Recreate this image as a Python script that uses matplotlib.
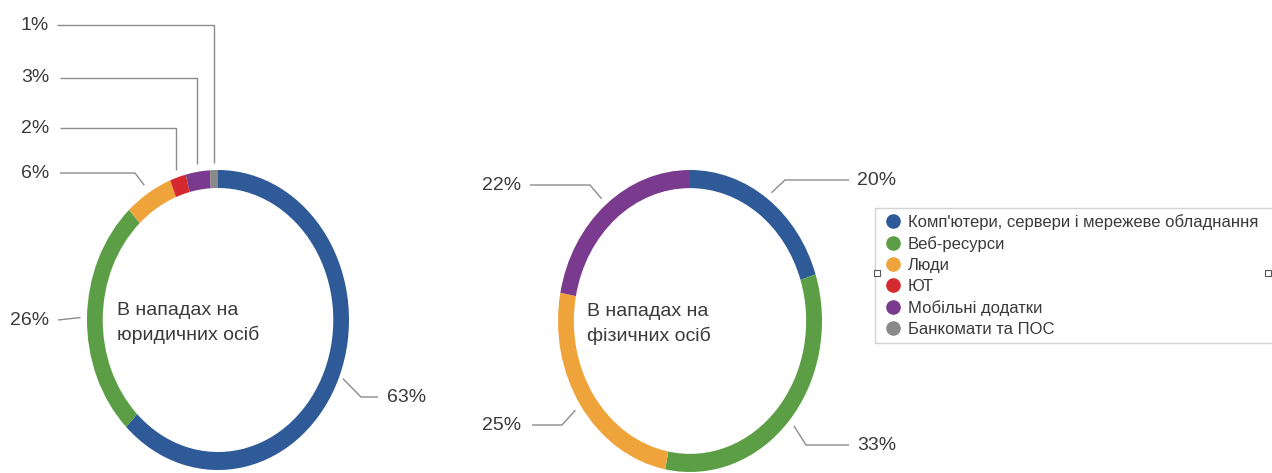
import numpy as np
import matplotlib
matplotlib.use("Agg")
import matplotlib.pyplot as plt
from matplotlib.lines import Line2D

plt.rcParams['font.family'] = ['Liberation Sans', 'DejaVu Sans']

# ---------------- data ----------------
categories = ["Комп'ютери, сервери і мережеве обладнання", "Веб-ресурси", "Люди",
              "ЮТ", "Мобільні додатки", "Банкомати та ПОС"]
colors = ["#2F5A98", "#5B9E45", "#EFA43B", "#D42A2F", "#7A3A8E", "#8A8A8A"]

legal_values = [63, 26, 6, 2, 3, 1]          # юридичні особи
legal_labels = ["63%", "26%", "6%", "2%", "3%", "1%"]
legal_title = "В нападах на\nюридичних осіб"

person_idx = [0, 1, 2, 4]                     # blue, green, orange, purple
person_values = [20, 33, 25, 22]              # фізичні особи
person_labels = ["20%", "33%", "25%", "22%"]
person_title = "В нападах на\nфізичних осіб"

# ---------------- layout ----------------
W, H = 1272, 473
fig = plt.figure(figsize=(W / 100, H / 100), dpi=100)
fig.patch.set_facecolor("white")

ov = fig.add_axes([0, 0, 1, 1], zorder=5)
ov.set_xlim(0, W)
ov.set_ylim(H, 0)
ov.axis("off")
ov.patch.set_alpha(0)


def pie_axes(cx, cy, rx, ry):
    return fig.add_axes([(cx - rx) / W, (H - (cy + ry)) / H, 2 * rx / W, 2 * ry / H])


def to_px(ax, x, y):
    disp = ax.transData.transform((x, y))
    return ov.transData.inverted().transform(disp)


TXT = "#3a3a3a"
LINE = "#8c8c8c"
FS = 14


def draw_donut(cx, cy, rx, ry, values, cols, labels, title, label_layout, title_xy):
    ax = pie_axes(cx, cy, rx, ry)
    wedges, _ = ax.pie(values, colors=cols, startangle=90, counterclock=False,
                       radius=1.0, wedgeprops=dict(width=0.12, linewidth=0))
    ax.set_aspect("auto")
    ax.set_xlim(-1, 1)
    ax.set_ylim(-1, 1)
    ax.axis("off")
    for w, lab, lay in zip(wedges, labels, label_layout):
        ang = np.deg2rad((w.theta1 + w.theta2) / 2)
        r = lay.get("r", 1.04)
        axp, ayp = to_px(ax, r * np.cos(ang), r * np.sin(ang))
        ty = lay["ty"]
        if lay["kind"] == "vert":
            xs = [lay["lx"], axp, axp]
            ys = [ty, ty, ayp]
        elif lay["kind"] == "straight":
            xs = [lay["lx"], axp]
            ys = [ty, ayp]
        else:
            xs = [lay["lx"], lay["ex"], axp]
            ys = [ty, ty, ayp]
        ov.plot(xs, ys, color=LINE, lw=1.0, solid_capstyle="butt")
        ov.text(lay["tx"], ty, lab, ha=lay["ha"], va="center", fontsize=FS, color=TXT)
    ov.text(title_xy[0], title_xy[1], title, ha="left", va="center", fontsize=FS,
            color=TXT, linespacing=1.45)


left_layout = [
    dict(kind="elbow", lx=378, ex=361, ty=397, tx=387, ha="left", r=1.03),   # 63%
    dict(kind="straight", lx=58, ty=320, tx=49, ha="right", r=1.05),          # 26%
    dict(kind="elbow", lx=60, ex=135, ty=173, tx=49, ha="right", r=1.06),     # 6%
    dict(kind="vert", lx=60, ty=128, tx=49, ha="right", r=1.05),              # 2%
    dict(kind="vert", lx=60, ty=78, tx=49, ha="right", r=1.05),               # 3%
    dict(kind="vert", lx=57, ty=25, tx=49, ha="right", r=1.05),               # 1%
]
draw_donut(218, 320, 131, 150, legal_values, colors, legal_labels, legal_title,
           left_layout, (117, 323))

right_layout = [
    dict(kind="elbow", lx=849, ex=785, ty=180, tx=857, ha="left", r=1.05),    # 20%
    dict(kind="elbow", lx=849, ex=806, ty=445, tx=857, ha="left", r=1.05),    # 33%
    dict(kind="elbow", lx=532, ex=562, ty=425, tx=521, ha="right", r=1.05),   # 25%
    dict(kind="elbow", lx=530, ex=590, ty=185, tx=521, ha="right", r=1.05),   # 22%
]
draw_donut(690, 321, 132, 151, person_values, [colors[i] for i in person_idx],
           person_labels, person_title, right_layout, (587, 324))

# ---------------- legend ----------------
handles = [Line2D([0], [0], marker="o", linestyle="none", markersize=9.5,
                  markerfacecolor=c, markeredgecolor=c) for c in colors]
leg = ov.legend(handles, categories, loc="upper left",
                bbox_to_anchor=(875 / W, 1 - 343 / H, 420 / W, 135 / H),
                bbox_transform=fig.transFigure, mode="expand",
                fontsize=12, frameon=True, fancybox=False, edgecolor="#c8c8c8",
                handlelength=1.5, handletextpad=0.13, labelspacing=0.37,
                borderpad=0.35, borderaxespad=0, labelcolor=TXT)
leg.get_frame().set_linewidth(1.0)

# selection handles on the legend frame
ov.plot([877, 1268], [273, 273], linestyle="none", marker="s", markersize=4,
        markerfacecolor="white", markeredgecolor="#555555", markeredgewidth=0.8,
        zorder=10)

fig.savefig("out.png", dpi=100, facecolor="white")
